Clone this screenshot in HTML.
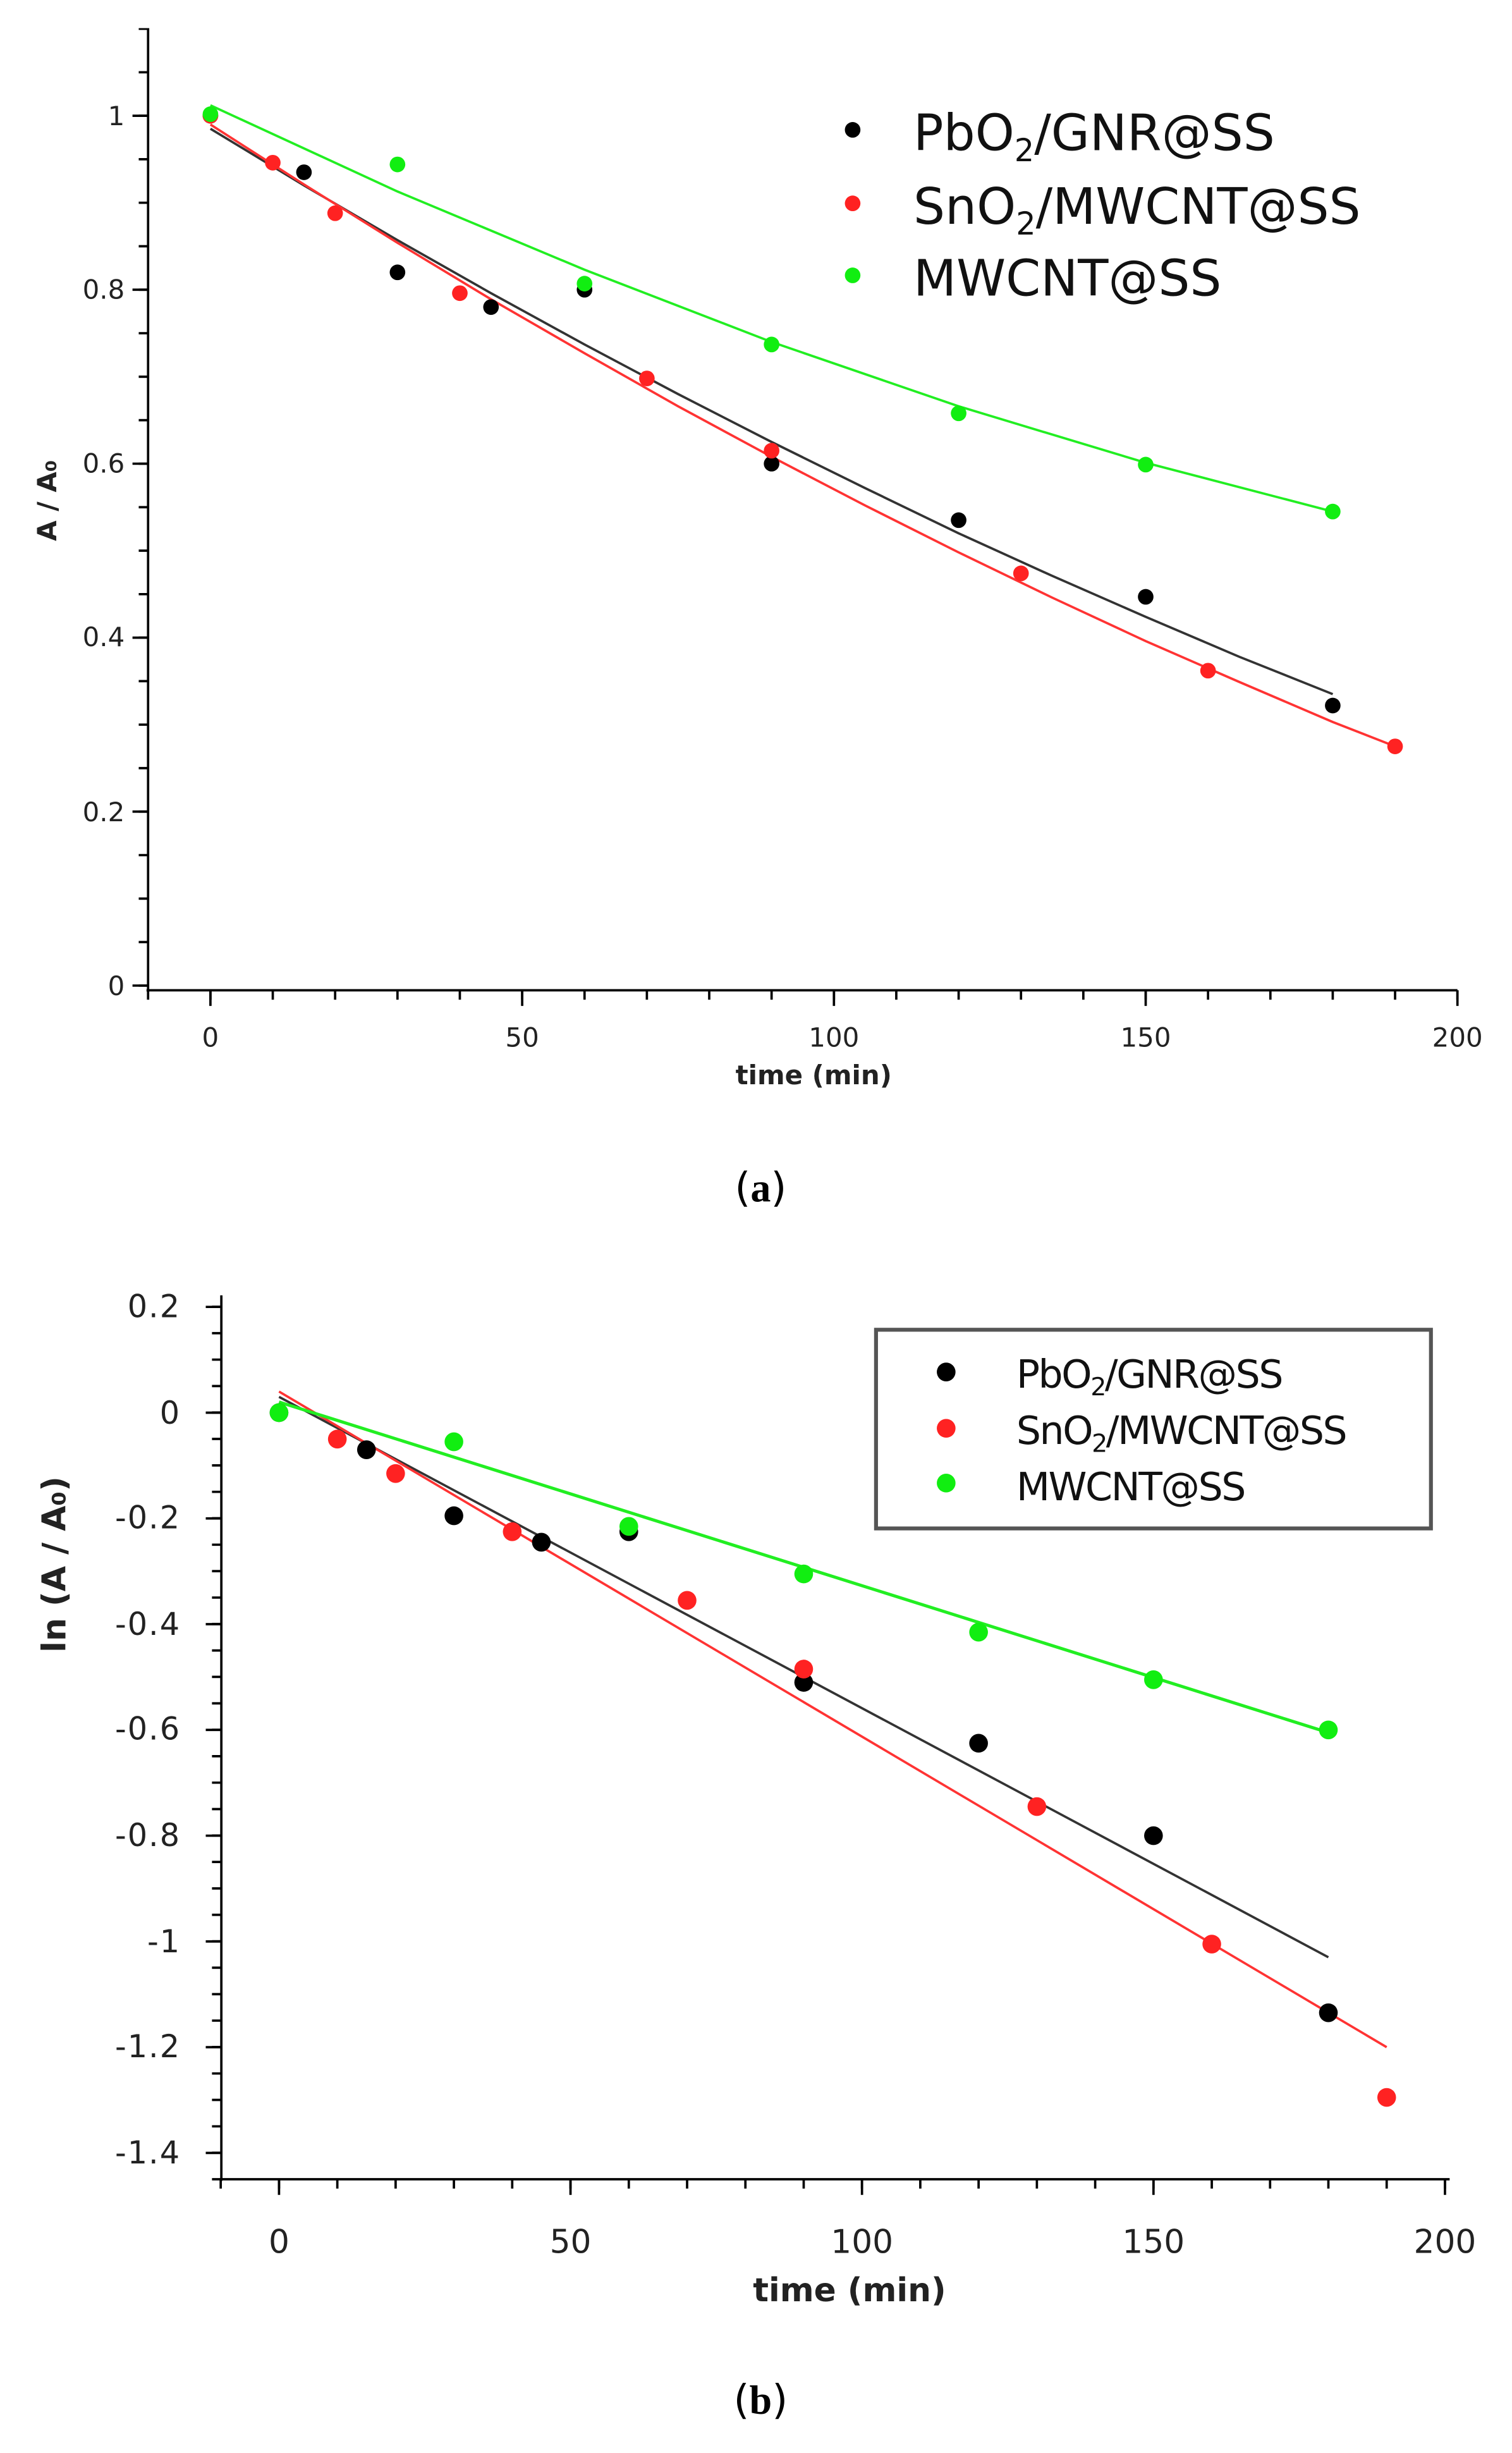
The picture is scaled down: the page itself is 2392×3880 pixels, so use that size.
<!DOCTYPE html>
<html><head><meta charset="utf-8"><style>
html,body{margin:0;padding:0;background:#fff;width:2392px;height:3880px;overflow:hidden}
svg{display:block}
text{font-family:"DejaVu Sans","Liberation Sans",sans-serif}
</style></head><body>
<svg width="2392" height="3880" viewBox="0 0 970 1568" preserveAspectRatio="none">
<!-- TOP CHART -->
<g stroke="#000" fill="none">
<line x1="95" y1="18" x2="95" y2="634" stroke-width="1.5"/>
<line x1="94" y1="633" x2="935" y2="633" stroke-width="1.5"/>
<line x1="92" y1="630.75" x2="92" y2="18" stroke-width="6" stroke-dasharray="1.5 26.3"/>
<line x1="90" y1="630.75" x2="90" y2="18" stroke-width="10" stroke-dasharray="1.5 109.7"/>
<line x1="94.25" y1="636" x2="936" y2="636" stroke-width="6" stroke-dasharray="1.5 38.5"/>
<line x1="134.25" y1="638" x2="936" y2="638" stroke-width="10" stroke-dasharray="1.5 198.5"/>
</g>
<g font-size="17" fill="#222" text-anchor="end">
<text x="80" y="636">0</text><text x="80" y="525">0.2</text><text x="80" y="413">0.4</text>
<text x="80" y="302">0.6</text><text x="80" y="191">0.8</text><text x="80" y="80">1</text>
</g>
<g font-size="17" fill="#222" text-anchor="middle">
<text x="135" y="669">0</text><text x="335" y="669">50</text><text x="535" y="669">100</text>
<text x="735" y="669">150</text><text x="935" y="669">200</text>
</g>
<text x="522" y="693" font-size="17" font-weight="bold" text-anchor="middle" fill="#222">time (min)</text>
<text transform="translate(36,320) rotate(-90)" font-size="17" font-weight="bold" text-anchor="middle" fill="#222">A / A₀</text>
<polyline fill="none" stroke="#333" stroke-width="1.5" points="135,82.3 195,118.5 255,153.5 315,187.4 375,220.2 435,251.9 495,282.5 555,312 615,340.9 675,368.1 735,394.3 795,419.8 855,443.7"/>
<polyline fill="none" stroke="#f33" stroke-width="1.5" points="135,79.6 195,117.9 255,155.2 315,191.3 375,225.8 435,259.7 495,292 555,323.1 615,353.1 675,382 735,409.8 795,435.9 855,461.5 895,477.1"/>
<polyline fill="none" stroke="#2e2" stroke-width="1.5" points="135,67.3 255,122.4 375,172.4 495,218.6 615,259.7 735,295.8 855,327"/>
<g fill="#000">
<circle cx="135" cy="74" r="5"/><circle cx="195" cy="110.1" r="5"/><circle cx="255" cy="174.1" r="5"/><circle cx="315" cy="196.3" r="5"/><circle cx="375" cy="185.2" r="5"/><circle cx="495" cy="296.4" r="5"/><circle cx="615" cy="332.5" r="5"/><circle cx="735" cy="381.5" r="5"/><circle cx="855" cy="451" r="5"/>
</g>
<g fill="#f22">
<circle cx="135" cy="74" r="5"/><circle cx="175" cy="104" r="5"/><circle cx="215" cy="136.3" r="5"/><circle cx="295" cy="187.4" r="5"/><circle cx="415" cy="241.9" r="5"/><circle cx="495" cy="288.1" r="5"/><circle cx="655" cy="366.5" r="5"/><circle cx="775" cy="428.7" r="5"/><circle cx="895" cy="477.1" r="5"/>
</g>
<g fill="#1e1">
<circle cx="135" cy="73" r="5"/><circle cx="255" cy="105.1" r="5"/><circle cx="375" cy="181.3" r="5"/><circle cx="495" cy="220.2" r="5"/><circle cx="615" cy="264.2" r="5"/><circle cx="735" cy="297" r="5"/><circle cx="855" cy="327" r="5"/>
</g>
<circle cx="547" cy="83" r="5" fill="#000"/><circle cx="547" cy="130" r="5" fill="#f22"/><circle cx="547" cy="176" r="5" fill="#1e1"/>
<g font-size="32" fill="#111">
<text x="586" y="96">PbO<tspan font-size="20" dy="7">2</tspan><tspan dy="-7">/GNR@SS</tspan></text>
<text x="586" y="143">SnO<tspan font-size="20" dy="7">2</tspan><tspan dy="-7">/MWCNT@SS</tspan></text>
<text x="586" y="189">MWCNT@SS</text>
</g>
<text x="488" y="768" font-family="Liberation Serif,serif" font-size="26" text-anchor="middle" fill="#000">(<tspan font-weight="bold" font-family="Liberation Serif,serif">a</tspan>)</text>

<!-- BOTTOM CHART -->
<g stroke="#000" fill="none">
<line x1="142" y1="828" x2="142" y2="1394" stroke-width="1.5"/>
<line x1="141" y1="1393" x2="930" y2="1393" stroke-width="1.5"/>
<line x1="139" y1="1393.75" x2="139" y2="828" stroke-width="6" stroke-dasharray="1.5 15.4"/>
<line x1="137" y1="1376.95" x2="137" y2="828" stroke-width="10" stroke-dasharray="1.5 66.1"/>
<line x1="140.85" y1="1396" x2="931" y2="1396" stroke-width="6" stroke-dasharray="1.5 35.9"/>
<line x1="178.25" y1="1398" x2="931" y2="1398" stroke-width="10" stroke-dasharray="1.5 185.5"/>
</g>
<g font-size="20" fill="#222" text-anchor="end" letter-spacing="0.8">
<text x="116" y="842">0.2</text><text x="116" y="910">0</text><text x="116" y="977">-0.2</text>
<text x="116" y="1045">-0.4</text><text x="116" y="1112">-0.6</text><text x="116" y="1180">-0.8</text>
<text x="116" y="1248">-1</text><text x="116" y="1315">-1.2</text><text x="116" y="1383">-1.4</text>
</g>
<g font-size="21" fill="#222" text-anchor="middle">
<text x="179" y="1440">0</text><text x="366" y="1440">50</text><text x="553" y="1440">100</text>
<text x="740" y="1440">150</text><text x="927" y="1440">200</text>
</g>
<text x="545" y="1471" font-size="21" font-weight="bold" text-anchor="middle" fill="#222">time (min)</text>
<text transform="translate(42,1000) rotate(-90)" font-size="21" font-weight="bold" text-anchor="middle" fill="#222">ln (A / A₀)</text>
<line x1="179" y1="892.9" x2="852.2" y2="1251.1" stroke="#333" stroke-width="1.5"/>
<line x1="179" y1="889.5" x2="889.6" y2="1308.6" stroke="#f33" stroke-width="1.5"/>
<line x1="179" y1="896.2" x2="852.2" y2="1107.5" stroke="#2e2" stroke-width="2"/>
<g fill="#000">
<circle cx="179" cy="903" r="6"/><circle cx="235.1" cy="926.7" r="6"/><circle cx="291.2" cy="968.9" r="6"/><circle cx="347.3" cy="985.8" r="6"/><circle cx="403.4" cy="979.1" r="6"/><circle cx="515.6" cy="1075.4" r="6"/><circle cx="627.8" cy="1114.3" r="6"/><circle cx="740" cy="1173.4" r="6"/><circle cx="852.2" cy="1286.6" r="6"/>
</g>
<g fill="#f22">
<circle cx="216.4" cy="919.9" r="6"/><circle cx="253.8" cy="941.9" r="6"/><circle cx="328.6" cy="979.1" r="6"/><circle cx="440.8" cy="1023" r="6"/><circle cx="515.6" cy="1066.9" r="6"/><circle cx="665.2" cy="1154.8" r="6"/><circle cx="777.4" cy="1242.7" r="6"/><circle cx="889.6" cy="1340.7" r="6"/>
</g>
<g fill="#1e1">
<circle cx="179" cy="903" r="6"/><circle cx="291.2" cy="921.6" r="6"/><circle cx="403.4" cy="975.7" r="6"/><circle cx="515.6" cy="1006.1" r="6"/><circle cx="627.8" cy="1043.3" r="6"/><circle cx="740" cy="1073.7" r="6"/><circle cx="852.2" cy="1105.8" r="6"/>
</g>
<rect x="562" y="850" width="356" height="127" fill="#fff" stroke="#555" stroke-width="2.5"/>
<circle cx="607" cy="877" r="6" fill="#000"/><circle cx="607" cy="913" r="6" fill="#f22"/><circle cx="607" cy="948" r="6" fill="#1e1"/>
<g font-size="25" fill="#111" letter-spacing="-1">
<text x="652" y="887">PbO<tspan font-size="16" dy="5">2</tspan><tspan dy="-5">/GNR@SS</tspan></text>
<text x="652" y="923">SnO<tspan font-size="16" dy="5">2</tspan><tspan dy="-5">/MWCNT@SS</tspan></text>
<text x="652" y="959">MWCNT@SS</text>
</g>
<text x="488" y="1543" font-family="Liberation Serif,serif" font-size="26" text-anchor="middle" fill="#000">(<tspan font-weight="bold" font-family="Liberation Serif,serif">b</tspan>)</text>
</svg>
</body></html>
